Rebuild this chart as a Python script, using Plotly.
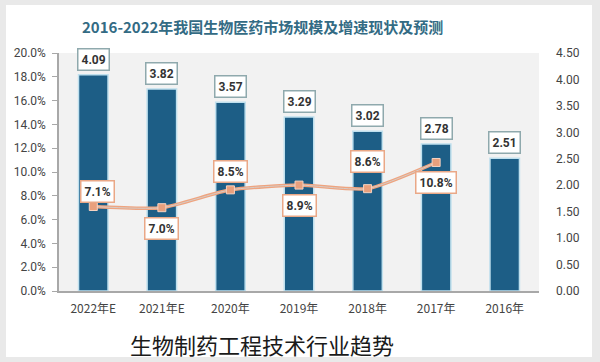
import plotly.graph_objects as go

years = ["2022年E", "2021年E", "2020年", "2019年", "2018年", "2017年", "2016年"]
market = [4.09, 3.82, 3.57, 3.29, 3.02, 2.78, 2.51]
growth = [7.1, 7.0, 8.5, 8.9, 8.6, 10.8, None]
growth_label_shift = [15, -21, 18, -20, 27, -20, 0]

title_text = "2016-2022年我国生物医药市场规模及增速现状及预测"
caption_text = "生物制药工程技术行业趋势"

W, H = 600, 362
ML, MR, MT, MB = 59, 61, 53, 71
PW, PH = W - ML - MR, H - MT - MB

def px_x(p):
    return (p - ML) / PW

def px_y(p):
    return (H - MB - p) / PH

fig = go.Figure()

fig.add_trace(go.Bar(
    x=years, y=market, yaxis="y",
    marker=dict(color="#1d5e86", line=dict(color="#bfe0ee", width=1.5)),
    width=0.43, showlegend=False, hoverinfo="skip",
))

gx = [x for x, g in zip(years, growth) if g is not None]
gy = [g / 100 for g in growth if g is not None]
fig.add_trace(go.Scatter(
    x=gx, y=gy, yaxis="y2", mode="lines",
    line=dict(color="#efa47f", width=3.5, shape="spline", smoothing=0.6),
    showlegend=False, hoverinfo="skip",
))
fig.add_trace(go.Scatter(
    x=gx, y=gy, yaxis="y2", mode="lines+markers",
    line=dict(color="#d6ccc7", width=1, shape="spline", smoothing=0.6),
    marker=dict(symbol="square", size=8, color="#e9a07d", line=dict(color="#f6d3c2", width=1)),
    showlegend=False, hoverinfo="skip",
))

ann = []
for x, v in zip(years, market):
    ann.append(dict(
        x=x, y=v, xref="x", yref="y", text=f"<b>{v:.2f}</b>", showarrow=False,
        yanchor="bottom", yshift=4, bgcolor="white", bordercolor="#8fa9ad",
        borderwidth=1.5, borderpad=3, font=dict(size=12, color="#333333", family="Roboto"),
    ))
for x, g, s in zip(years, growth, growth_label_shift):
    if g is None:
        continue
    ann.append(dict(
        x=x, y=g / 100, xref="x", yref="y2", text=f"<b>{g:.1f}%</b>", showarrow=False,
        yshift=s, xshift=4 if x == years[0] else 0, bgcolor="white", bordercolor="#eaa887",
        borderwidth=1.5, borderpad=3, font=dict(size=12, color="#333333", family="Roboto"),
    ))
ann.append(dict(
    x=px_x(262), y=px_y(27), xref="paper", yref="paper", text=f"<b>{title_text}</b>",
    xanchor="center", yanchor="middle",
    showarrow=False, font=dict(size=15, color="#336b84", family="Noto Sans CJK SC"),
))
ann.append(dict(
    x=px_x(262), y=px_y(344), xref="paper", yref="paper", text=caption_text,
    xanchor="center", yanchor="middle",
    showarrow=False, font=dict(size=22, color="#1a1a1a", family="Noto Sans CJK SC"),
))

shapes = []
# outer gray frame
for x0, y0, x1, y1 in [(0, 0, 600, 5), (0, 357, 600, 362), (0, 0, 6, 362), (592, 0, 600, 362)]:
    shapes.append(dict(type="rect", xref="paper", yref="paper",
                       x0=px_x(x0), x1=px_x(x1), y0=px_y(y1), y1=px_y(y0),
                       fillcolor="#e9e9e9", line=dict(width=0), layer="below"))

fig.update_layout(
    width=W, height=H,
    margin=dict(l=ML, r=MR, t=MT, b=MB),
    paper_bgcolor="white", plot_bgcolor="#f2f2f2",
    font=dict(family="Roboto", color="#444444", size=12),
    xaxis=dict(type="category", categoryorder="array", categoryarray=years,
               showline=True, linecolor="#a8a8a8", linewidth=1.5,
               ticks="", tickfont=dict(size=12, color="#444444", family="Noto Sans CJK SC"),
               ticklabelstandoff=6),
    yaxis=dict(side="right", range=[0, 4.5], dtick=0.5, tickformat=".2f",
               showgrid=False, zeroline=False, showline=False, ticks="",
               ticklabelstandoff=16, tickfont=dict(size=12, color="#444444")),
    yaxis2=dict(side="left", overlaying="y", range=[0, 0.2], dtick=0.02, tickformat=".1%",
                showgrid=False, zeroline=False, showline=True, linecolor="#a8a8a8", linewidth=1.5,
                ticks="outside", ticklen=5, tickcolor="#a8a8a8",
                ticklabelstandoff=4, tickfont=dict(size=12, color="#444444")),
    annotations=ann, shapes=shapes,
    bargap=0.5,
)

fig.write_html("out.html", config={"displayModeBar": False},
               post_script="document.body.style.margin='0';document.body.style.overflow='hidden';")
